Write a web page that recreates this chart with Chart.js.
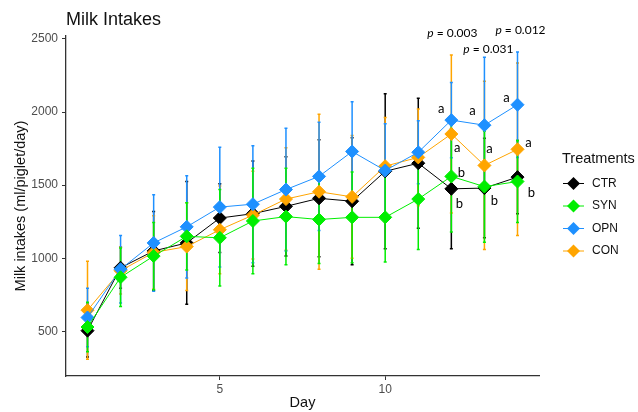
<!DOCTYPE html>
<html><head><meta charset="utf-8">
<script src="https://cdn.jsdelivr.net/npm/chart.js@4.4.0/dist/chart.umd.min.js"></script>
<style>html,body{margin:0;padding:0;background:#fff}#wrap{width:638px;height:412px}</style>
</head><body><div id="wrap"><canvas id="c" width="638" height="412"></canvas></div>
<script>
// ---- data ----
const days = [1,2,3,4,5,6,7,8,9,10,11,12,13,14];
const ctrMean = [505, 935, 1050, 1105, 1275, 1305, 1355, 1410, 1390, 1595, 1650, 1475, 1480, 1555];
const ctrSd   = [180, 140, 270, 420, 235, 360, 340, 400, 435, 530, 445, 410, 340, 250];
const synMean = [530, 870, 1015, 1150, 1140, 1255, 1285, 1265, 1280, 1280, 1405, 1560, 1490, 1525];
const synSd   = [170, 200, 230, 230, 330, 360, 330, 300, 310, 305, 345, 380, 380, 280];
const opnMean = [595, 925, 1105, 1215, 1350, 1370, 1470, 1560, 1730, 1600, 1725, 1945, 1910, 2050];
const opnSd   = [200, 230, 330, 350, 410, 400, 420, 370, 340, 320, 215, 257, 465, 360];
const conMean = [645, 915, 1040, 1080, 1195, 1295, 1405, 1455, 1420, 1630, 1690, 1850, 1635, 1745];
const conSd   = [335, 160, 250, 300, 300, 300, 350, 530, 420, 333, 330, 540, 575, 590];
const seriesNames = ['CTR', 'SYN', 'OPN', 'CON'];
const xTickValues = [5, 10];
const yTickValues = [500, 1000, 1500, 2000, 2500];
const pValueDays = [12, 13, 14];
const pValueTexts = ['0.003', '0.031', '0.012'];
const letterDays = [12, 12, 12, 12, 13, 13, 13, 14, 14, 14];
const letterSeries = ['OPN', 'CON', 'SYN', 'CTR', 'OPN', 'CON', 'CTR', 'OPN', 'CON', 'SYN'];
const letterTexts = ['a', 'a', 'b', 'b', 'a', 'a', 'b', 'a', 'a', 'b'];

// ---- styling ----
const colors = {CTR: '#000000', SYN: '#00ee00', OPN: '#1e90ff', CON: '#ffa500'};
const means = {CTR: ctrMean, SYN: synMean, OPN: opnMean, CON: conMean};
const sds = {CTR: ctrSd, SYN: synSd, OPN: opnSd, CON: conSd};
const drawOrder = {SYN: 0, OPN: 1, CON: 2, CTR: 3};
const letterOffsets = [[-10,-11],[6,14],[10,-4],[8,15],[-12,-14],[5,-17],[10,13],[-11,-7],[11,-7],[14,11]];
const pOffsets = [[1,-3],[4,13],[3,-5.5]];
const FONT = "'Liberation Sans', Arial, sans-serif";

const datasets = seriesNames.map(n => ({
  label: n,
  data: days.map((d, i) => ({x: d, y: means[n][i]})),
  borderColor: colors[n],
  backgroundColor: colors[n],
  borderWidth: 1,
  pointStyle: 'rectRot',
  pointRadius: 6.5,
  pointBorderWidth: 1,
  pointBorderColor: colors[n],
  pointBackgroundColor: colors[n],
  order: drawOrder[n],
  tension: 0
}));

const errorBars = {
  id: 'errorBars',
  beforeDatasetsDraw(chart) {
    const {ctx, scales: {x, y}} = chart;
    ctx.save();
    ['CTR', 'CON', 'OPN', 'SYN'].forEach(n => {
      ctx.strokeStyle = colors[n];
      ctx.lineWidth = 1.5;
      days.forEach((d, i) => {
        const px = x.getPixelForValue(d);
        const lo = y.getPixelForValue(means[n][i] - sds[n][i]);
        const hi = y.getPixelForValue(means[n][i] + sds[n][i]);
        ctx.beginPath();
        ctx.moveTo(px, lo); ctx.lineTo(px, hi);
        ctx.moveTo(px - 1.5, lo); ctx.lineTo(px + 1.5, lo);
        ctx.moveTo(px - 1.5, hi); ctx.lineTo(px + 1.5, hi);
        ctx.stroke();
      });
    });
    ctx.restore();
  }
};

function diamond(ctx, cx, cy, r, col) {
  ctx.beginPath();
  ctx.moveTo(cx, cy - r); ctx.lineTo(cx + r, cy); ctx.lineTo(cx, cy + r); ctx.lineTo(cx - r, cy);
  ctx.closePath();
  ctx.fillStyle = col; ctx.fill();
}

const extras = {
  id: 'extras',
  afterDraw(chart) {
    const {ctx, scales: {x, y}, chartArea} = chart;
    ctx.save();
    // title
    ctx.fillStyle = '#111';
    ctx.font = "18px " + FONT;
    ctx.textBaseline = 'middle';
    ctx.textAlign = 'left';
    ctx.fillText('Milk Intakes', 66, 20);
    // letters
    ctx.font = "13px Lato, 'Open Sans', sans-serif";
    ctx.textAlign = 'center';
    ctx.fillStyle = '#000';
    letterDays.forEach((d, k) => {
      const n = letterSeries[k];
      const i = days.indexOf(d);
      const px = x.getPixelForValue(d) + letterOffsets[k][0];
      const py = y.getPixelForValue(means[n][i]) + letterOffsets[k][1];
      ctx.fillText(letterTexts[k], px, py);
    });
    // p values
    pValueDays.forEach((d, k) => {
      const cx = x.getPixelForValue(d) + pOffsets[k][0];
      const cy = chartArea.top + pOffsets[k][1];
      const it = "italic 12px Lato, 'Open Sans', sans-serif";
      const nm = "12px Lato, 'Open Sans', sans-serif";
      ctx.font = it; const w1 = ctx.measureText('p').width;
      const rest = ' = ' + pValueTexts[k];
      ctx.font = nm; const w2 = ctx.measureText(rest).width;
      const sx = cx - (w1 + w2) / 2;
      ctx.textAlign = 'left';
      ctx.font = it; ctx.fillText('p', sx, cy);
      ctx.font = nm; ctx.fillText(rest, sx + w1, cy);
    });
    // legend
    ctx.textAlign = 'left';
    ctx.fillStyle = '#111';
    ctx.font = "14.5px " + FONT;
    ctx.fillText('Treatments', 562, 159);
    seriesNames.forEach((n, k) => {
      const ly = 183.5 + k * 22.5;
      ctx.strokeStyle = colors[n]; ctx.lineWidth = 1;
      ctx.beginPath(); ctx.moveTo(563, ly); ctx.lineTo(584, ly); ctx.stroke();
      diamond(ctx, 573.5, ly, 6.5, colors[n]);
      ctx.fillStyle = '#111';
      ctx.font = "12px " + FONT;
      ctx.fillText(n, 592, ly);
    });
    ctx.restore();
  }
};

new Chart(document.getElementById('c'), {
  type: 'line',
  data: {datasets},
  options: {
    responsive: false,
    animation: false,
    layout: {padding: {left: 0, right: 99, top: 36, bottom: 0}},
    plugins: {legend: {display: false}, tooltip: {enabled: false}, title: {display: false}},
    scales: {
      x: {
        type: 'linear', min: 0.35, max: 14.65,
        afterBuildTicks: s => { s.ticks = xTickValues.map(v => ({value: v})); },
        afterFit: s => { s.height = 36; },
        ticks: {color: '#4d4d4d', font: {size: 12, family: FONT}, padding: 2, maxRotation: 0, autoSkip: false, callback: v => String(v)},
        grid: {drawOnChartArea: false, drawTicks: true, tickLength: 4, tickColor: '#333', tickWidth: 1},
        border: {display: true, color: '#333', width: 1.3},
        title: {display: true, text: 'Day', color: '#111', font: {size: 14.5, family: FONT}, padding: {top: 0, bottom: 0}}
      },
      y: {
        type: 'linear', min: 195, max: 2520,
        afterBuildTicks: s => { s.ticks = yTickValues.map(v => ({value: v})); },
        afterFit: s => { s.width = 66; },
        ticks: {color: '#4d4d4d', font: {size: 12, family: FONT}, padding: 4, callback: v => String(v)},
        grid: {drawOnChartArea: false, drawTicks: true, tickLength: 4, tickColor: '#333', tickWidth: 1},
        border: {display: true, color: '#333', width: 1.3},
        title: {display: true, text: 'Milk intakes (ml/piglet/day)', color: '#111', font: {size: 14.5, family: FONT}, padding: {top: 12, bottom: 0}}
      }
    }
  },
  plugins: [errorBars, extras]
});
</script>
</body></html>
